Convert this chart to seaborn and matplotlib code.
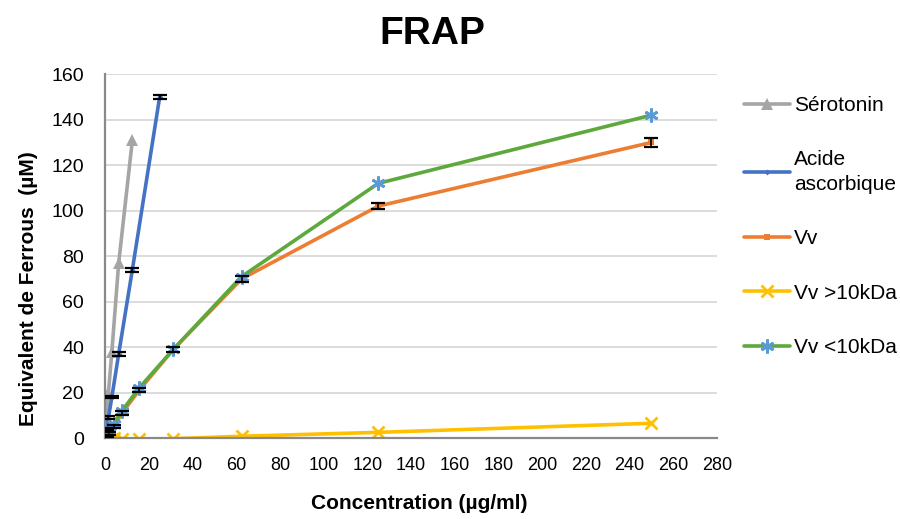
import matplotlib
matplotlib.use("Agg")
import matplotlib.pyplot as plt
import seaborn as sns

# concentrations (ug/ml) and FRAP values (uM Fe2+)
conc_sero = [0.78, 1.56, 3.125, 6.25, 12.5]
sero = [9, 20, 38, 77, 131]

conc_aa = [0.78, 1.56, 3.125, 6.25, 12.5, 25]
aa = [4, 9, 18, 37, 74, 150]
aa_err = [0.5, 0.5, 0.6, 0.8, 0.8, 0.8]

conc_vv = [0.98, 1.95, 3.9, 7.8, 15.6, 31.25, 62.5, 125, 250]
vv = [1, 2, 5, 11, 21, 39, 70, 102, 130]
vv_err = [0.5, 0.5, 0.6, 0.8, 0.8, 1.0, 1.2, 1.2, 1.8]

conc_big = [0.98, 1.95, 3.9, 7.8, 15.6, 31.25, 62.5, 125, 250]
vv_big = [0, 0, 0, -0.3, -0.5, -0.3, 0.8, 2.5, 6.5]

conc_small = [0.98, 1.95, 3.9, 7.8, 15.6, 31.25, 62.5, 125, 250]
vv_small = [1, 3, 6, 12, 22, 39, 71, 112, 142]

sns.set_style("white")
plt.rcParams["font.family"] = ["Liberation Sans", "DejaVu Sans"]
plt.rcParams["text.color"] = "black"
plt.rcParams["axes.labelcolor"] = "black"
plt.rcParams["xtick.color"] = "black"
plt.rcParams["ytick.color"] = "black"

fig = plt.figure(figsize=(9, 5.19), dpi=100)
ax = fig.add_axes([0.1167, 0.156, 0.680, 0.701])

lw = 2.6
sns.lineplot(x=conc_sero, y=sero, color="#A5A5A5", marker="^", markersize=8,
             markeredgewidth=0, linewidth=lw, label="Sérotonin", sort=False, ax=ax)
sns.lineplot(x=conc_aa, y=aa, color="#4472C4", marker="D", markersize=3,
             markeredgewidth=0, linewidth=lw, label="Acide\nascorbique", sort=False, ax=ax)
ax.errorbar(conc_aa, aa, yerr=aa_err, fmt="none", ecolor="black",
            capsize=5, capthick=1.6, elinewidth=1.2, zorder=5)
sns.lineplot(x=conc_vv, y=vv, color="#ED7D31", marker="s", markersize=4,
             markeredgewidth=0, linewidth=lw, label="Vv", sort=False, ax=ax)
ax.errorbar(conc_vv, vv, yerr=vv_err, fmt="none", ecolor="black",
            capsize=5, capthick=1.6, elinewidth=1.2, zorder=5)
sns.lineplot(x=conc_big, y=vv_big, color="#FFC000", marker="x", markersize=8,
             markeredgewidth=2, markeredgecolor="#FFC000", linewidth=lw,
             label="Vv >10kDa", sort=False, ax=ax)
sns.lineplot(x=conc_small, y=vv_small, color="#5DA93C", marker=(6, 2, 0),
             markersize=10, markeredgewidth=2, markeredgecolor="#5B9BD5",
             linewidth=lw, label="Vv <10kDa", sort=False, ax=ax)

ax.set_xlim(0, 280)
ax.set_ylim(0, 160)
ax.set_xticks(range(0, 281, 20))
ax.set_yticks(range(0, 161, 20))
ax.tick_params(axis="y", labelsize=14, length=5, width=1.2, color="#898989",
               direction="out", pad=10)
ax.tick_params(axis="x", labelsize=13, length=0, pad=14)
ax.yaxis.grid(True, color="#D9D9D9", linewidth=1.3)
for s in ["top", "right"]:
    ax.spines[s].set_visible(False)
for s in ["left", "bottom"]:
    ax.spines[s].set_color("#898989")
    ax.spines[s].set_linewidth(1.6)

fig.text(0.48, 0.935, "FRAP", fontsize=28, fontweight="bold", ha="center", va="center")
ax.set_xlabel("Concentration (µg/ml)", fontsize=15, fontweight="bold")
ax.set_ylabel("Equivalent de Ferrous  (µM)", fontsize=15, fontweight="bold")
ax.xaxis.set_label_coords(0.513, -0.155)
ax.yaxis.set_label_coords(-0.11, 0.41)

leg = ax.legend(loc="upper left", bbox_to_anchor=(0.815, 0.835), bbox_transform=fig.transFigure,
                frameon=False, fontsize=15, labelspacing=1.7, handlelength=2.2,
                handletextpad=0.2, borderpad=0)
for t in leg.get_texts():
    t.set_linespacing(1.35)

fig.savefig("out.png", dpi=100)
